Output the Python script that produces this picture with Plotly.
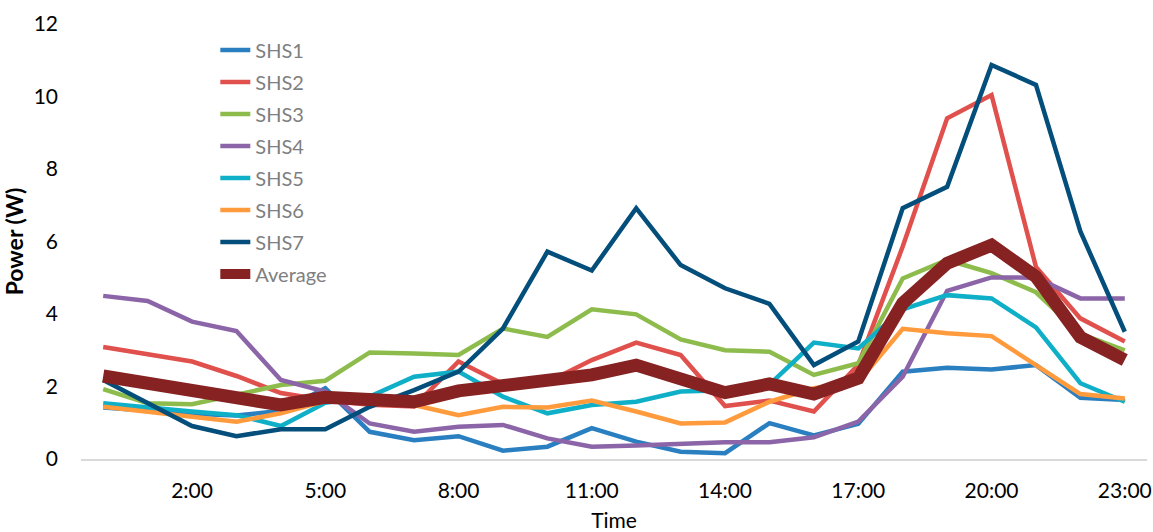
import plotly.graph_objects as go

# Hourly power draw of seven solar home systems and their average
hours = list(range(24))
tick_hours = [2, 5, 8, 11, 14, 17, 20, 23]
tick_labels = ["2:00", "5:00", "8:00", "11:00", "14:00", "17:00", "20:00", "23:00"]

shs1 = [1.42, 1.33, 1.25, 1.2, 1.33, 1.95, 0.75, 0.52, 0.63, 0.23, 0.34, 0.85, 0.48, 0.2,
        0.16, 0.99, 0.65, 0.97, 2.41, 2.52, 2.47, 2.59, 1.69, 1.63]
shs2 = [3.09, 2.9, 2.69, 2.29, 1.82, 1.62, 1.5, 1.45, 2.69, 2.07, 2.12, 2.73, 3.21, 2.87,
        1.46, 1.61, 1.31, 2.6, 5.86, 9.4, 10.04, 5.3, 3.88, 3.24]
shs3 = [1.93, 1.54, 1.51, 1.77, 2.04, 2.16, 2.94, 2.91, 2.87, 3.6, 3.37, 4.13, 3.99, 3.3,
        3.0, 2.96, 2.32, 2.64, 4.98, 5.49, 5.13, 4.6, 3.45, 3.0]
shs4 = [4.5, 4.36, 3.79, 3.53, 2.18, 1.86, 0.98, 0.75, 0.89, 0.94, 0.57, 0.34, 0.37, 0.43,
        0.46, 0.46, 0.6, 1.03, 2.27, 4.64, 5.01, 5.0, 4.43, 4.43]
shs5 = [1.54, 1.41, 1.31, 1.21, 0.91, 1.55, 1.72, 2.27, 2.41, 1.72, 1.26, 1.49, 1.58, 1.86,
        1.9, 2.05, 3.21, 3.05, 4.13, 4.52, 4.43, 3.63, 2.09, 1.58]
shs6 = [1.44, 1.31, 1.17, 1.03, 1.26, 1.6, 1.65, 1.49, 1.21, 1.44, 1.42, 1.61, 1.31, 0.98,
        1.01, 1.58, 1.95, 2.13, 3.59, 3.47, 3.39, 2.59, 1.79, 1.67]
shs7 = [2.18, 1.54, 0.91, 0.63, 0.82, 0.82, 1.44, 1.9, 2.41, 3.6, 5.72, 5.2, 6.92, 5.35,
        4.71, 4.28, 2.59, 3.24, 6.92, 7.51, 10.87, 10.32, 6.28, 3.51]
average = [2.29, 2.09, 1.86, 1.72, 1.49, 1.7, 1.61, 1.58, 1.88, 2.01, 2.15, 2.32, 2.59, 2.18,
           1.83, 2.07, 1.79, 2.23, 4.3, 5.4, 5.9, 5.03, 3.36, 2.73]

series = [
    ("SHS1", shs1, "#2A7FC1", 4.5),
    ("SHS2", shs2, "#E0504C", 4.5),
    ("SHS3", shs3, "#8DBC4C", 4.5),
    ("SHS4", shs4, "#8B65A8", 4.5),
    ("SHS5", shs5, "#0FAFC8", 4.5),
    ("SHS6", shs6, "#FF9B3D", 4.5),
    ("SHS7", shs7, "#034E7A", 4.5),
    ("Average", average, "#862222", 13),
]

FONT = "Lato, 'Open Sans', sans-serif"

fig = go.Figure()
for name, values, color, width in series:
    fig.add_trace(go.Scatter(
        x=hours, y=values, name=name, mode="lines", legendgroup=name,
        line=dict(color=color, width=width, shape="linear"),
    ))

fig.update_layout(
    width=1153, height=532,
    margin=dict(l=81, r=6, t=24, b=73),
    plot_bgcolor="white", paper_bgcolor="white",
    font=dict(family=FONT, size=21, color="#000000"),
    showlegend=True,
    legend=dict(
        x=0.126, y=0.985, xanchor="left", yanchor="top",
        bgcolor="rgba(0,0,0,0)", borderwidth=0,
        font=dict(family=FONT, size=20, color="#7F7F7F"),
        tracegroupgap=3, itemwidth=30,
    ),
    xaxis=dict(
        range=[-0.5, 23.5], tickmode="array", tickvals=tick_hours, ticktext=tick_labels,
        showgrid=False, zeroline=False, showline=True, linecolor="#D9D9D9", linewidth=2,
        ticks="", ticklabelstandoff=12, automargin=False,
        tickfont=dict(family=FONT, size=21, color="#000000"),
        title=dict(text="Time", standoff=18, font=dict(family=FONT, size=21, color="#000000")),
    ),
    yaxis=dict(
        range=[0, 12], tickmode="array", tickvals=[0, 2, 4, 6, 8, 10, 12],
        showgrid=False, zeroline=False, showline=False, automargin=False,
        ticks="", ticklabelstandoff=22,
        tickfont=dict(family=FONT, size=21, color="#000000"),
        title=dict(text="<b>Power (W)</b>", standoff=6,
                   font=dict(family=FONT, size=23, color="#000000")),
    ),
)

fig.write_html("out.html")
